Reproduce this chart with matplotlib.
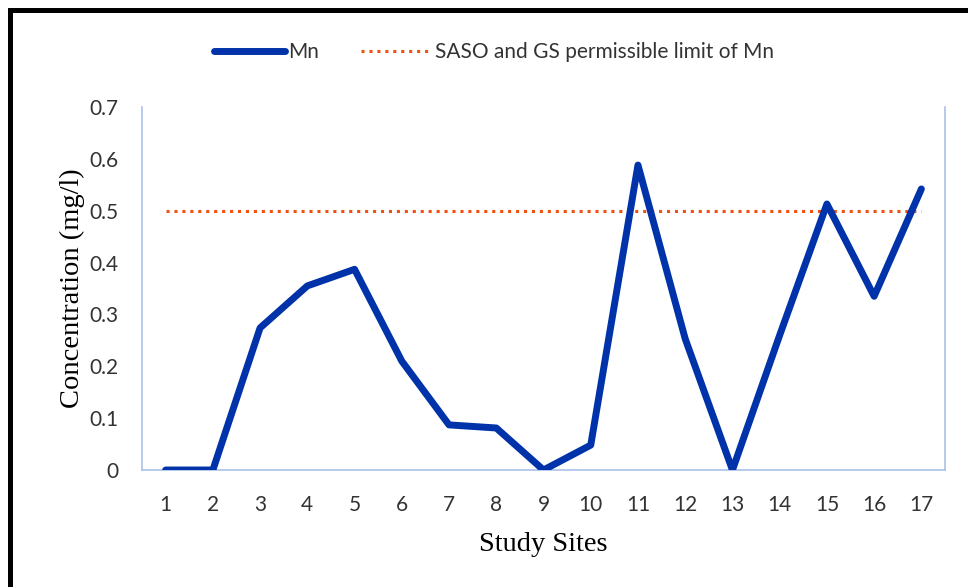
import numpy as np
from matplotlib import pyplot as plt
from matplotlib.patches import Rectangle

sites = list(range(1, 18))
mn = [0, 0, 0.274, 0.355, 0.387, 0.21, 0.087, 0.081, 0, 0.048, 0.588, 0.253, 0, 0.26, 0.513, 0.335, 0.542]
limit = [0.5] * len(sites)
yticks = [0, 0.1, 0.2, 0.3, 0.4, 0.5, 0.6, 0.7]
ytick_labels = ["0", "0.1", "0.2", "0.3", "0.4", "0.5", "0.6", "0.7"]

BLUE = "#0033aa"
ORANGE = "#f2500f"
FRAME = "#a9c1ea"
TICKFONT = "Lato"
SERIF = "Liberation Serif"

fig = plt.figure(figsize=(9.68, 5.87), dpi=100)
ax = fig.add_axes([142 / 968, 1 - 470 / 587, 803 / 968, 363 / 587])

ax.plot(sites, mn, color=BLUE, linewidth=5, solid_capstyle="round",
        solid_joinstyle="round", label="Mn", zorder=3)
ax.plot(sites, limit, color=ORANGE, linewidth=2.2, linestyle=(0, (1, 1.6)),
        label="SASO and GS permissible limit of Mn", zorder=2)

ax.set_xlim(0.5, 17.5)
ax.set_ylim(0, 0.7)
ax.set_xticks(sites)
ax.set_xticklabels([str(s) for s in sites], fontfamily=TICKFONT, fontsize=15, color="#333333")
ax.set_yticks(yticks)
ax.set_yticklabels(ytick_labels, fontfamily=TICKFONT, fontsize=15, color="#333333")
ax.tick_params(length=0, pad=18, axis="x")
ax.tick_params(length=0, pad=17, axis="y")

ax.spines["top"].set_visible(False)
for s in ["left", "right", "bottom"]:
    ax.spines[s].set_color(FRAME)
    ax.spines[s].set_linewidth(1.2)

ax.set_xlabel("Study Sites", fontfamily=SERIF, fontsize=20.5, labelpad=12)
ax.set_ylabel("Concentration (mg/l)", fontfamily=SERIF, fontsize=20.5, labelpad=3)

leg = ax.legend(loc="center", bbox_to_anchor=(494 / 968, 1 - 52 / 587), bbox_transform=fig.transFigure,
                ncol=2, frameon=False, handlelength=3.4, handletextpad=0.15, columnspacing=2.0,
                prop={"family": TICKFONT, "size": 15})
for t in leg.get_texts():
    t.set_color("#333333")

# black border around the picture (cut off on the right and bottom)
fig.patches.append(Rectangle((9.5 / 968, -0.1), 1.2, 1.1 - 9.5 / 587,
                             transform=fig.transFigure, fill=False,
                             edgecolor="black", linewidth=3.6))

plt.savefig("out.png", dpi=100)
